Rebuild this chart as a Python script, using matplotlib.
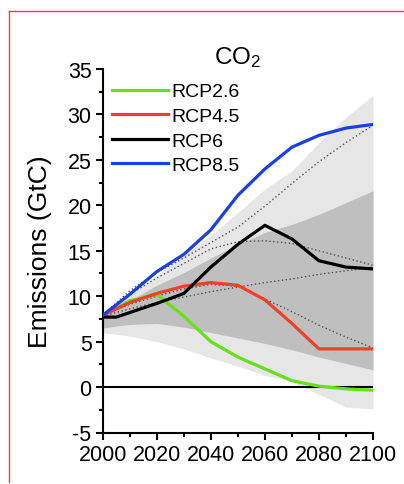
import matplotlib
matplotlib.use("Agg")
import matplotlib.pyplot as plt
from matplotlib.lines import Line2D
from matplotlib.ticker import MultipleLocator

plt.rcParams['font.family'] = ['Liberation Sans', 'DejaVu Sans']
plt.rcParams['mathtext.fontset'] = 'custom'
plt.rcParams['mathtext.rm'] = 'Liberation Sans'
plt.rcParams['mathtext.it'] = 'Liberation Sans'
plt.rcParams['axes.unicode_minus'] = False

years = [2000, 2010, 2020, 2030, 2040, 2050, 2060, 2070, 2080, 2090, 2100]

rcp26 = [7.9, 9.5, 10.2, 7.8, 5.0, 3.3, 2.0, 0.7, 0.1, -0.2, -0.35]
rcp45 = [7.9, 9.3, 10.3, 11.1, 11.5, 11.2, 9.6, 7.0, 4.2, 4.2, 4.2]
rcp6_years = [2000, 2005, 2010, 2020, 2030, 2040, 2050, 2060, 2070, 2080, 2090, 2100]
rcp6 = [7.7, 7.7, 8.2, 9.2, 10.3, 13.2, 15.7, 17.8, 16.3, 13.9, 13.2, 13.0]
rcp85 = [7.9, 10.2, 12.7, 14.6, 17.3, 21.1, 24.0, 26.4, 27.7, 28.5, 28.9]

dot_a = [7.9, 10.6, 12.6, 14.2, 15.9, 17.6, 19.9, 22.4, 24.8, 26.9, 28.8]
dot_b = [7.9, 10.2, 12.0, 13.6, 15.2, 16.0, 16.1, 15.8, 15.0, 14.2, 13.4]
dot_c = [7.8, 8.6, 9.3, 9.9, 10.5, 11.0, 11.5, 11.9, 12.4, 12.8, 13.2]
dot_d = [7.9, 9.1, 10.0, 10.8, 11.3, 11.1, 9.7, 8.3, 6.8, 5.5, 4.3]

light_lo = [6.0, 5.6, 5.0, 4.2, 3.2, 2.3, 1.3, 0.6, -0.8, -2.2, -2.4]
light_hi = [7.9, 10.1, 12.3, 14.5, 16.7, 19.2, 21.8, 23.8, 26.9, 29.7, 32.1]
dark_lo = [6.5, 6.9, 7.0, 6.6, 6.0, 5.4, 4.8, 4.1, 3.3, 2.6, 1.9]
dark_hi = [8.0, 9.5, 11.2, 12.6, 14.2, 15.7, 17.0, 17.9, 19.0, 20.3, 21.6]

labels = ['RCP2.6', 'RCP4.5', 'RCP6', 'RCP8.5']
colors = ['#66e01a', '#f0402a', '#000000', '#1a3ee8']

W, H = 404, 485
fig = plt.figure(figsize=(W / 100, H / 100), dpi=100)
x0, x1, ytop, ybot = 102.7, 373.0, 70.0, 433.5
ax = fig.add_axes([x0 / W, (H - ybot) / H, (x1 - x0) / W, (ybot - ytop) / H])

ax.fill_between(years, light_lo, light_hi, color='#e6e6e6', lw=0, zorder=1)
ax.fill_between(years, dark_lo, dark_hi, color='#bfbfbf', lw=0, zorder=2)

for d in (dot_a, dot_b, dot_c, dot_d):
    ax.plot(years, d, color='#505050', lw=1.0, ls=(0, (1, 1.8)), zorder=3)

ax.axhline(0, color='black', lw=1.5, zorder=4)

ax.plot(years, rcp26, color=colors[0], lw=2.3, label=labels[0], zorder=5)
ax.plot(years, rcp45, color=colors[1], lw=2.3, label=labels[1], zorder=5)
ax.plot(rcp6_years, rcp6, color=colors[2], lw=2.3, label=labels[2], zorder=5)
ax.plot(years, rcp85, color=colors[3], lw=2.3, label=labels[3], zorder=5)

ax.set_xlim(2000, 2100)
ax.set_ylim(-5, 35)
ax.xaxis.set_major_locator(MultipleLocator(20))
ax.xaxis.set_minor_locator(MultipleLocator(10))
ax.yaxis.set_major_locator(MultipleLocator(5))
ax.yaxis.set_minor_locator(MultipleLocator(2.5))

for s in ('top', 'right'):
    ax.spines[s].set_visible(False)
for s in ('left', 'bottom'):
    ax.spines[s].set_linewidth(1.5)

ax.tick_params(which='major', direction='out', length=5, width=1.5, labelsize=15.5, pad=3)
ax.tick_params(which='minor', direction='out', length=3, width=1.5)

ax.set_ylabel('Emissions (GtC)', fontsize=19, labelpad=11)
ax.set_title('CO$_2$', fontsize=17.5, pad=4)

leg = ax.legend(loc='upper left', bbox_to_anchor=(0.034, 0.962), frameon=False,
                borderaxespad=0, borderpad=0, fontsize=14, handlelength=2.9,
                handletextpad=0.15, labelspacing=0.36)

red = '#f04040'
fig.add_artist(Line2D([9 / W, 1.0], [(H - 12) / H, (H - 12) / H], color=red, lw=1.0))
fig.add_artist(Line2D([9 / W, 9 / W], [(H - 12) / H, (H - 483) / H], color=red, lw=1.0))

fig.savefig('out.png', dpi=100)
